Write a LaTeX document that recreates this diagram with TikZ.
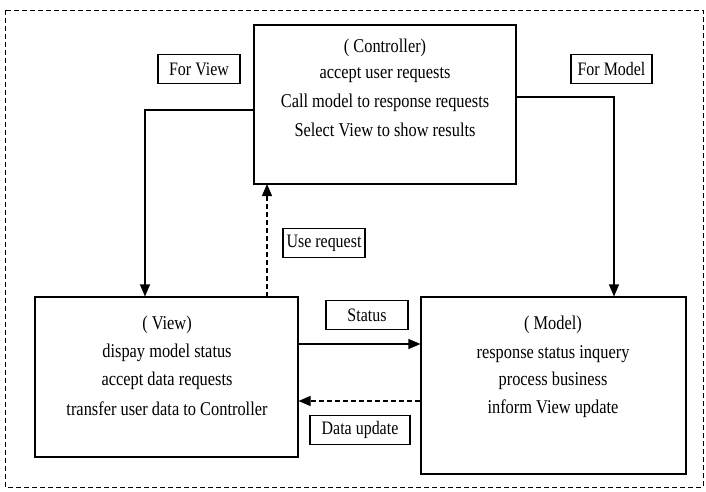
\documentclass[tikz,border=0pt]{standalone}
\usepackage{fontspec}
\setmainfont{Liberation Serif}[FakeStretch=0.84]
\usetikzlibrary{arrows.meta}
\begin{document}
\begin{tikzpicture}[x=1pt,y=-1pt,
  box/.style={draw,line width=1.1pt,inner sep=0pt},
  lbl/.style={draw,line width=1.1pt,minimum height=29pt,inner sep=1pt,font=\fontsize{19}{22}\selectfont},
  txt/.style={font=\fontsize{19.5}{22}\selectfont,inner sep=0pt},
  conn/.style={line width=1.1pt,-{Triangle[length=12pt,width=10pt]}},
  dconn/.style={conn,dash pattern=on 5pt off 3pt}]
\useasboundingbox (0,0) rectangle (706,491);
\draw[line width=1pt,dash pattern=on 5pt off 3pt] (5,10) rectangle (703,487);
% boxes
\node[box,minimum width=262pt,minimum height=159pt] (ctrl) at (385,104.5) {};
\node[box,minimum width=263pt,minimum height=160pt] (view) at (166.5,377) {};
\node[box,minimum width=265pt,minimum height=177pt] (model) at (553.5,385.5) {};
% texts
\node[txt] (c1) at (385,48) {( Controller)};
\node[txt] (c2) at (385,75) {accept user requests};
\node[txt] (c3) at (385,103) {Call model to response requests};
\node[txt] (c4) at (385,130) {Select View to show results};
\node[txt] (v1) at (167,325) {( View)};
\node[txt] (v2) at (167,353) {dispay model status};
\node[txt] (v3) at (167,381) {accept data requests};
\node[txt] (v4) at (167,409) {transfer user data to Controller};
\node[txt] (m1) at (553,325) {( Model)};
\node[txt] (m2) at (553,354) {response status inquery};
\node[txt] (m3) at (553,381) {process business};
\node[txt] (m4) at (553,409) {inform View update};
% labels
\node[lbl,minimum width=82pt] (forview) at (199,69) {For View};
\node[lbl,minimum width=81pt] (formodel) at (611.5,69) {For Model};
\node[lbl,minimum width=82pt] (usereq) at (324,243) {Use request};
\node[lbl,minimum width=82pt] (status) at (367,315) {Status};
\node[lbl,minimum width=100pt] (dataup) at (360,430) {Data update};
% connectors
\coordinate (a1) at (145,110);
\coordinate (a2) at (614,97);
\draw[conn] (ctrl.west |- a1) -- (a1) -- (a1 |- view.north);
\draw[conn] (ctrl.east |- a2) -- (a2) -- (a2 |- model.north);
\draw[dconn] (267,297) -- (267,184);
\draw[conn] (view.east |- 0,344) -- (model.west |- 0,344);
\draw[dconn] (model.west |- 0,401) -- (view.east |- 0,401);
\end{tikzpicture}
\end{document}
